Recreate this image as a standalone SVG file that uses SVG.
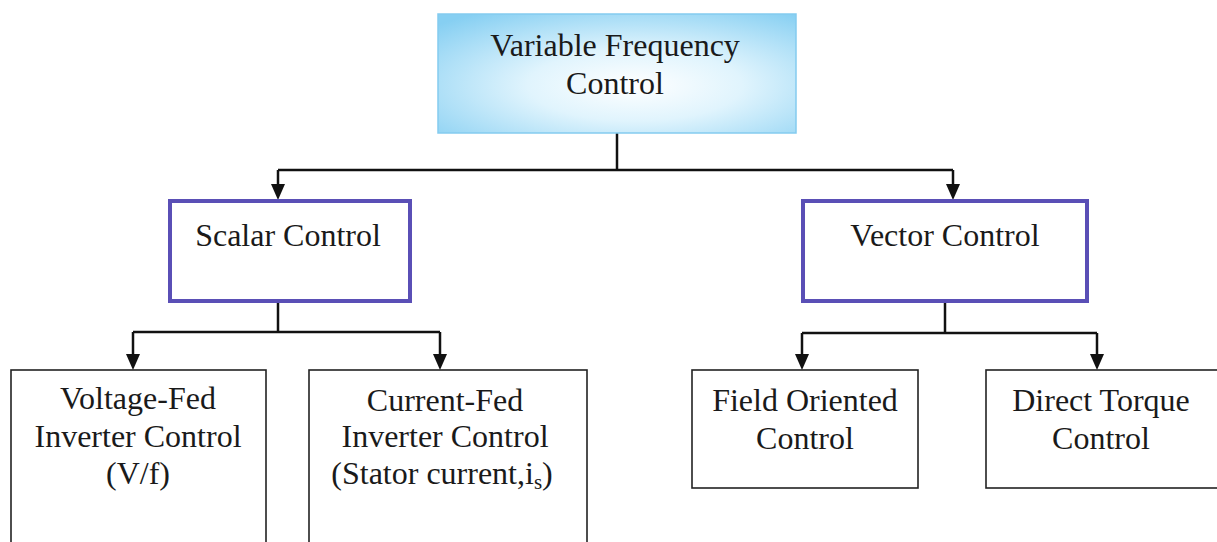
<svg xmlns="http://www.w3.org/2000/svg" width="1217" height="542" viewBox="0 0 1217 542">
<style>
text{font-family:"Liberation Serif","Times New Roman",serif;font-size:32px;fill:#1a1a1a;text-anchor:middle}
.con{fill:none;stroke:#111;stroke-width:2.5}
.mid{fill:#fff;stroke:#5a4fb6;stroke-width:4}
.leaf{fill:#fff;stroke:#222;stroke-width:1.6}
</style>
<defs>
<radialGradient id="g" cx="0.55" cy="0.6" r="0.75">
<stop offset="0" stop-color="#ffffff"/>
<stop offset="0.4" stop-color="#e0f4fd"/>
<stop offset="1" stop-color="#86cff2"/>
</radialGradient>
</defs>
<g id="connectors">
<polyline class="con" points="617,133 617,170"/>
<polyline class="con" points="278,170 953,170"/>
<path d="M278,170 V184" class="con"/><path d="M271,184 L285,184 L278,200 Z" fill="#111"/>
<path d="M953,170 V184" class="con"/><path d="M946,184 L960,184 L953,200 Z" fill="#111"/>
<polyline class="con" points="278,302 278,332"/>
<polyline class="con" points="133,332 440,332"/>
<path d="M133,332 V354" class="con"/><path d="M126,354 L140,354 L133,370 Z" fill="#111"/>
<path d="M440,332 V354" class="con"/><path d="M433,354 L447,354 L440,370 Z" fill="#111"/>
<polyline class="con" points="945,302 945,333"/>
<polyline class="con" points="802,333 1097,333"/>
<path d="M802,333 V354" class="con"/><path d="M795,354 L809,354 L802,370 Z" fill="#111"/>
<path d="M1097,333 V354" class="con"/><path d="M1090,354 L1104,354 L1097,370 Z" fill="#111"/>
</g>
<g id="vfc">
<rect x="438" y="14" width="358" height="119" fill="url(#g)" stroke="#84cbef" stroke-width="1.5"/>
<text x="615" y="56">Variable Frequency</text>
<text x="615" y="94">Control</text>
</g>
<g id="scalar">
<rect class="mid" x="170" y="201" width="240" height="100"/>
<text x="288" y="246">Scalar Control</text>
</g>
<g id="vector">
<rect class="mid" x="803" y="201" width="284" height="100"/>
<text x="945" y="246">Vector Control</text>
</g>
<g id="vfi">
<rect class="leaf" x="11" y="370" width="255" height="190"/>
<text x="138" y="409">Voltage-Fed</text>
<text x="138" y="447">Inverter Control</text>
<text x="138" y="484">(V/f)</text>
</g>
<g id="cfi">
<rect class="leaf" x="309" y="370" width="278" height="190"/>
<text x="445" y="411">Current-Fed</text>
<text x="445" y="447">Inverter Control</text>
<text x="442" y="484">(Stator current,i<tspan font-size="21" dy="5">s</tspan><tspan dy="-5">)</tspan></text>
</g>
<g id="foc">
<rect class="leaf" x="692" y="370" width="226" height="118"/>
<text x="805" y="411">Field Oriented</text>
<text x="805" y="449">Control</text>
</g>
<g id="dtc">
<rect class="leaf" x="986" y="370" width="260" height="118"/>
<text x="1101" y="411">Direct Torque</text>
<text x="1101" y="449">Control</text>
</g>
</svg>
